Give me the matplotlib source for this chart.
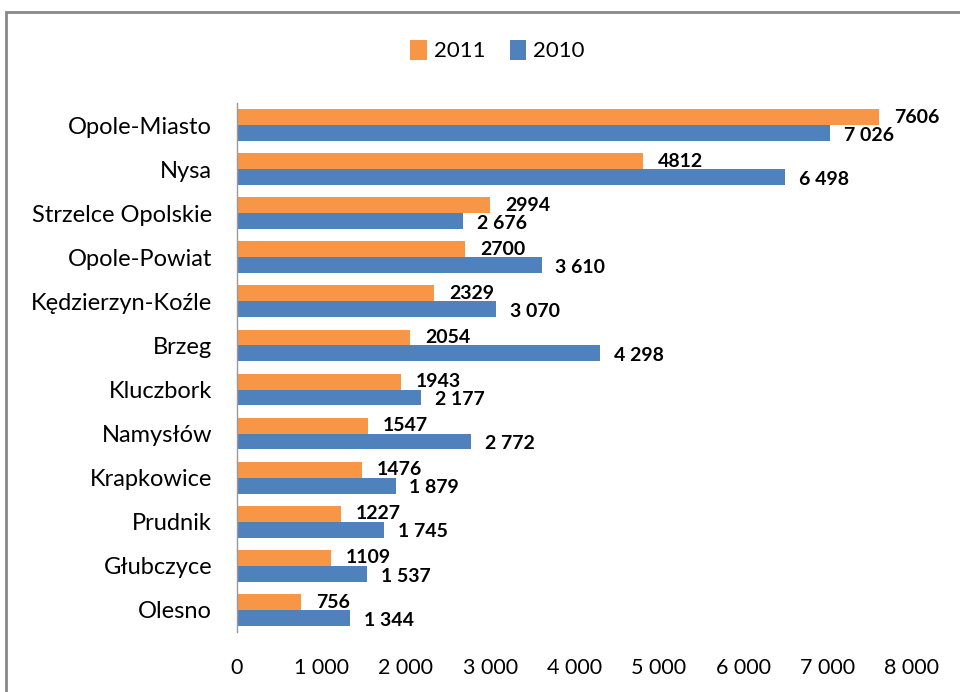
import matplotlib
matplotlib.use('Agg')
import matplotlib.pyplot as plt
import numpy as np
from matplotlib.patches import Rectangle

plt.rcParams['font.family'] = ['Lato', 'DejaVu Sans']

# data (top to bottom)
powiaty = ['Opole-Miasto', 'Nysa', 'Strzelce Opolskie', 'Opole-Powiat',
           'Kędzierzyn-Koźle', 'Brzeg', 'Kluczbork', 'Namysłów',
           'Krapkowice', 'Prudnik', 'Głubczyce', 'Olesno']
v2011 = [7606, 4812, 2994, 2700, 2329, 2054, 1943, 1547, 1476, 1227, 1109, 756]
v2010 = [7026, 6498, 2676, 3610, 3070, 4298, 2177, 2772, 1879, 1745, 1537, 1344]
xticks = [0, 1000, 2000, 3000, 4000, 5000, 6000, 7000, 8000]

c2011 = '#F79646'
c2010 = '#4F81BD'

def fmt(v):
    return '{:,}'.format(v).replace(',', ' ')

fig = plt.figure(figsize=(9.6, 6.92), dpi=100)
ax = fig.add_axes([0.2469, 0.0867, 0.7031, 0.7645])

y = np.arange(len(powiaty))
h = 0.36
b1 = ax.barh(y - h / 2, v2011, height=h, color=c2011, label='2011')
b2 = ax.barh(y + h / 2, v2010, height=h, color=c2010, label='2010')

for bar, v in zip(b1, v2011):
    ax.annotate(str(v), (bar.get_width(), bar.get_y() + bar.get_height() / 2),
                xytext=(11, 0), textcoords='offset points', va='center', ha='left',
                fontsize=14, fontweight='bold')
for bar, v in zip(b2, v2010):
    ax.annotate(fmt(v), (bar.get_width(), bar.get_y() + bar.get_height() / 2 + 0.05),
                xytext=(10, 0), textcoords='offset points', va='center', ha='left',
                fontsize=14, fontweight='bold')

ax.set_ylim(len(powiaty) - 0.5, -0.5)
ax.set_yticks(y)
ax.set_yticklabels(powiaty, fontsize=17)
ax.set_xlim(0, 8000)
ax.set_xticks(xticks)
ax.set_xticklabels([fmt(t) for t in xticks], fontsize=15.5)
ax.tick_params(axis='y', length=0, pad=18)
ax.tick_params(axis='x', length=0, pad=19)
for s in ['top', 'right', 'bottom']:
    ax.spines[s].set_visible(False)
ax.spines['left'].set_color('#999999')
ax.spines['left'].set_linewidth(1)

fig.legend(loc='center', bbox_to_anchor=(0.518, 0.927), ncol=2, frameon=False,
           fontsize=16, handlelength=0.75, handleheight=1.0, handletextpad=0.3,
           columnspacing=1.1)

# outer frame (cut off at the right and bottom edges)
fig.add_artist(Rectangle((6 / 960, -0.1), 1.2, 1 - 12 / 692 + 0.1,
                         transform=fig.transFigure, fill=False,
                         edgecolor='#888888', linewidth=2))

fig.savefig('out.png', dpi=100)
